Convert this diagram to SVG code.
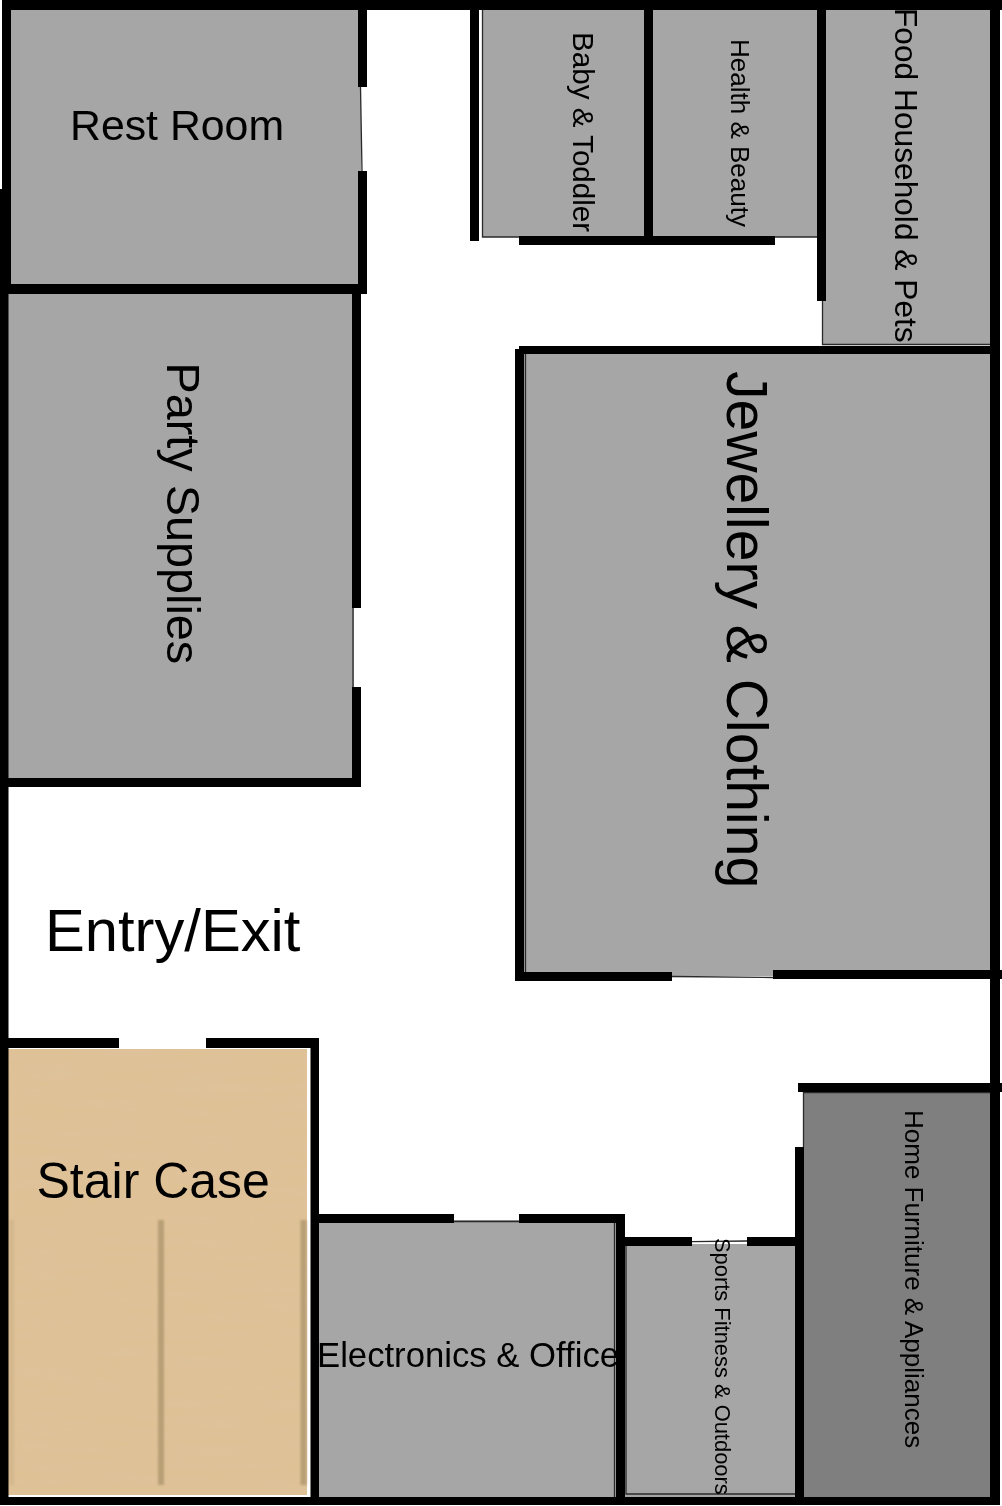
<svg xmlns="http://www.w3.org/2000/svg" width="1002" height="1506" viewBox="0 0 1002 1506">
<style>
.room{fill:#a6a6a6}
.wall{fill:#000}
.thin{stroke:#2a2a2a;stroke-width:1.300;fill:none}
text{font-family:"Liberation Sans",Arial,sans-serif;fill:#000}
</style>
<defs>
<filter id="soft" x="-50%" y="-5%" width="200%" height="110%"><feGaussianBlur stdDeviation="1"/></filter>
<filter id="grain" x="0" y="0" width="100%" height="100%">
<feTurbulence type="fractalNoise" baseFrequency="0.012 0.13" numOctaves="3" seed="4"/>
<feColorMatrix values="0 0 0 0 .72  0 0 0 0 .55  0 0 0 0 .36  1.400 0 0 0 -.38"/>
<feComposite in2="SourceGraphic" operator="in"/>
</filter>
</defs>
<rect width="1002" height="1506" fill="#fff"/>
<g id="rooms">
<rect class="room" x="8" y="9" width="353" height="277"/>
<rect class="room" x="8" y="292" width="346" height="488"/>
<rect class="room" x="483" y="9" width="335" height="228"/>
<rect class="room" x="822" y="9" width="170" height="335"/>
<rect class="room" x="524" y="353" width="467" height="623"/>
<rect fill="#7f7f7f" x="803" y="1090" width="188" height="407"/>
<rect class="room" x="318" y="1220" width="298" height="277"/>
<rect class="room" x="625" y="1244" width="173" height="253"/>
</g>
<g id="stair-case">
<rect x="8" y="1049" width="299" height="446" fill="#dfc196"/>
<rect x="8" y="1049" width="299" height="446" fill="#dfc196" filter="url(#grain)" opacity=".45"/>
<g filter="url(#soft)" fill="#b89f76">
<rect x="158" y="1220" width="6" height="265"/>
<rect x="300.500" y="1220" width="6" height="265"/>
<rect x="9" y="1220" width="5" height="265" opacity=".3"/>
</g>
</g>
<g id="thin-lines">
<path class="thin" d="M360.500 87L362 171M353 608V687M482.500 9V237H520M775 237H818M822.500 300V344.500H992M672 976.500L773 977.500M692 1241.700L747 1241M803.500 1092V1147M454 1221.500H519M804 1092.500H992M525.500 354V972M626 1246V1494H796M614.500 1223V1497"/>
</g>
<g id="walls">
<rect class="wall" x="2" y="0" width="1000" height="10"/>
<rect class="wall" x="0" y="1497" width="1000" height="8"/>
<rect class="wall" x="2" y="0" width="9" height="190"/>
<rect class="wall" x="0" y="189" width="11" height="105"/>
<rect class="wall" x="0" y="294" width="8.500" height="1211"/>
<rect class="wall" x="990" y="0" width="10" height="1505"/>
<rect class="wall" x="358" y="9" width="9" height="78"/>
<rect class="wall" x="358" y="171" width="9" height="119"/>
<rect class="wall" x="0" y="284" width="367" height="10"/>
<rect class="wall" x="352" y="290" width="9" height="318"/>
<rect class="wall" x="352" y="687" width="9" height="100"/>
<rect class="wall" x="0" y="778" width="361" height="9"/>
<rect class="wall" x="470" y="9" width="9" height="232"/>
<rect class="wall" x="644" y="9" width="9" height="231"/>
<rect class="wall" x="519" y="236" width="256" height="9"/>
<rect class="wall" x="817" y="9" width="9" height="292"/>
<rect class="wall" x="519" y="346" width="473" height="8"/>
<rect class="wall" x="515" y="349" width="9" height="632"/>
<rect class="wall" x="515" y="972" width="157" height="9"/>
<rect class="wall" x="773" y="970" width="229" height="9"/>
<rect class="wall" x="798" y="1083" width="204" height="9"/>
<rect class="wall" x="795" y="1147" width="9" height="350"/>
<rect class="wall" x="8" y="1038" width="111" height="10"/>
<rect class="wall" x="206" y="1038" width="113" height="10"/>
<rect class="wall" x="310.500" y="1038" width="8.500" height="459"/>
<rect class="wall" x="319" y="1214" width="135" height="9"/>
<rect class="wall" x="519" y="1214" width="106" height="9"/>
<rect class="wall" x="616" y="1214" width="9" height="283"/>
<rect class="wall" x="625" y="1237" width="67" height="9"/>
<rect class="wall" x="747" y="1237" width="48" height="9"/>
</g>
<g id="rest-room"><text x="70" y="140" font-size="42.800">Rest Room</text></g>
<g id="party-supplies"><text transform="translate(167 362.500) rotate(90)" font-size="46.800">Party Supplies</text></g>
<g id="baby-toddler"><text transform="translate(572.500 32) rotate(90)" font-size="29.600">Baby &amp; Toddler</text></g>
<g id="health-beauty"><text transform="translate(731 39) rotate(90)" font-size="26">Health &amp; Beauty</text></g>
<g id="food-household-pets"><text transform="translate(894.500 8) rotate(90)" font-size="31.700">Food Household &amp; Pets</text></g>
<g id="jewellery-clothing"><text transform="translate(727 371) rotate(90)" font-size="57.100">Jewellery &amp; Clothing</text></g>
<g id="entry-exit"><text x="45" y="951" font-size="59.700">Entry/Exit</text></g>
<g id="stair-case-label"><text x="36.500" y="1198" font-size="50">Stair Case</text></g>
<g id="electronics-office"><text x="317" y="1367" font-size="34.700">Electronics &amp; Office</text></g>
<g id="sports-fitness-outdoors"><text transform="translate(714.500 1238) rotate(90)" font-size="21.900">Sports Fitness &amp; Outdoors</text></g>
<g id="home-furniture-appliances"><text transform="translate(905 1110) rotate(90)" font-size="26">Home Furniture &amp; Appliances</text></g>
</svg>
